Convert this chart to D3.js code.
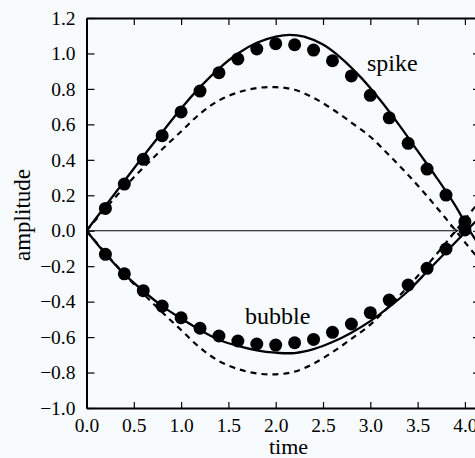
<!DOCTYPE html>
<html>
<head>
<meta charset="utf-8">
<script src="https://cdn.jsdelivr.net/npm/d3@7"></script>
<style>
  html, body { margin: 0; padding: 0; background: #f8fbfd; }
  svg { display: block; }
  text { font-family: "Liberation Serif", "Times New Roman", serif; fill: #000; }
</style>
</head>
<body>
<svg id="chart" width="475" height="458"></svg>
<script>
// ---- data ----
const dotTimes   = [0.2,0.4,0.6,0.8,1.0,1.2,1.4,1.6,1.8,2.0,2.2,2.4,2.6,2.8,3.0,3.2,3.4,3.6,3.8,4.0];
const spikeDots  = [0.126,0.263,0.403,0.536,0.670,0.788,0.891,0.969,1.025,1.055,1.049,1.019,0.959,0.873,0.764,0.637,0.493,0.348,0.201,0.051];
const bubbleDots = [-0.133,-0.243,-0.338,-0.425,-0.491,-0.550,-0.594,-0.622,-0.639,-0.645,-0.632,-0.613,-0.573,-0.526,-0.462,-0.391,-0.306,-0.212,-0.103,0.004];

const spikeTimes = [0,0.2,0.4,0.6,0.8,1.0,1.2,1.4,1.6,1.8,2.0,2.15,2.3,2.5,2.7,2.9,3.1,3.3,3.5,3.7,3.9,4.05,4.2];
const spikeLine  = [0,0.14,0.28,0.42,0.555,0.69,0.81,0.915,1.0,1.06,1.095,1.105,1.095,1.05,0.97,0.865,0.74,0.6,0.45,0.3,0.14,0.0,-0.12];

const lineTimes  = [0,0.2,0.4,0.6,0.8,1.0,1.2,1.4,1.6,1.8,2.0,2.2,2.4,2.6,2.8,3.0,3.2,3.4,3.6,3.8,4.0,4.2];
const bubbleLine = [0,-0.13,-0.245,-0.34,-0.425,-0.495,-0.56,-0.615,-0.65,-0.675,-0.688,-0.69,-0.668,-0.628,-0.575,-0.51,-0.43,-0.34,-0.23,-0.12,-0.01,0.1];
const dashUpper  = [0,0.125,0.245,0.355,0.46,0.56,0.66,0.735,0.78,0.805,0.81,0.795,0.75,0.685,0.61,0.53,0.425,0.315,0.195,0.068,-0.065,-0.195];
const dashLower  = [0,-0.125,-0.245,-0.355,-0.46,-0.56,-0.66,-0.735,-0.78,-0.805,-0.81,-0.795,-0.75,-0.685,-0.61,-0.53,-0.425,-0.315,-0.195,-0.068,0.065,0.195];

const xTicks = [0,0.5,1.0,1.5,2.0,2.5,3.0,3.5,4.0];
const yTicks = [-1.0,-0.8,-0.6,-0.4,-0.2,0.0,0.2,0.4,0.6,0.8,1.0,1.2];

// ---- layout ----
const svg = d3.select("#chart");
const x = d3.scaleLinear().domain([0, 4.17]).range([86.5, 481]);
const y = d3.scaleLinear().domain([-1.0, 1.2]).range([408, 18]);

svg.append("defs").append("clipPath").attr("id","plot")
  .append("rect").attr("x", x(0)).attr("y", y(1.2)).attr("width", x(4.17)-x(0)).attr("height", y(-1.0)-y(1.2));

const fmt = d3.format(".1f");

// y axis left
const yAxisL = d3.axisLeft(y).tickValues(yTicks).tickSizeInner(-8).tickSizeOuter(0).tickPadding(11)
  .tickFormat(fmt);
const gyl = svg.append("g").attr("transform", `translate(${x(0)},0)`).call(yAxisL);
// y axis right
const yAxisR = d3.axisRight(y).tickValues(yTicks).tickSizeInner(-8).tickSizeOuter(0).tickFormat("");
const gyr = svg.append("g").attr("transform", `translate(${x(4.17)},0)`).call(yAxisR);
// x axis bottom
const xAxisB = d3.axisBottom(x).tickValues(xTicks).tickSizeInner(-6).tickSizeOuter(0).tickPadding(10)
  .tickFormat(fmt);
const gxb = svg.append("g").attr("transform", `translate(0,${y(-1.0)})`).call(xAxisB);
// x axis top
const xAxisT = d3.axisTop(x).tickValues(xTicks).tickSizeInner(-7).tickSizeOuter(0).tickFormat("");
const gxt = svg.append("g").attr("transform", `translate(0,${y(1.2)})`).call(xAxisT);

[gyl, gyr, gxb, gxt].forEach(g => {
  g.select(".domain").attr("stroke", "#000").attr("stroke-width", 2);
  g.selectAll(".tick line").attr("stroke", "#000").attr("stroke-width", 1.2);
  g.selectAll(".tick text").attr("font-size", 19.5).attr("font-family", '"Liberation Serif", serif').attr("fill", "#000");
});

// zero line with arrow head
const zx1 = x(3.92);
svg.append("line").attr("x1", x(0)).attr("x2", zx1).attr("y1", y(0)).attr("y2", y(0))
  .attr("stroke", "#000").attr("stroke-width", 1.2);
svg.append("path")
  .attr("d", `M${zx1-7},${y(0)-5} L${zx1},${y(0)} L${zx1-7},${y(0)+5}`)
  .attr("fill", "none").attr("stroke", "#000").attr("stroke-width", 1.2);

const plot = svg.append("g").attr("clip-path", "url(#plot)");
const line = d3.line().curve(d3.curveCatmullRom.alpha(0.5));

// dashed curves
[dashUpper, dashLower].forEach(vals => {
  plot.append("path")
    .attr("d", line(lineTimes.map((t,i) => [x(t), y(vals[i])])))
    .attr("fill", "none").attr("stroke", "#000").attr("stroke-width", 2.2)
    .attr("stroke-dasharray", "6,5");
});

// solid curves
plot.append("path")
  .attr("d", line(spikeTimes.map((t,i) => [x(t), y(spikeLine[i])])))
  .attr("fill", "none").attr("stroke", "#000").attr("stroke-width", 2.3);
plot.append("path")
  .attr("d", line(lineTimes.map((t,i) => [x(t), y(bubbleLine[i])])))
  .attr("fill", "none").attr("stroke", "#000").attr("stroke-width", 2.3);

// dots
plot.selectAll("circle.spike").data(dotTimes).enter().append("circle")
  .attr("cx", d => x(d)).attr("cy", (d,i) => y(spikeDots[i])).attr("r", 6.5).attr("fill", "#000");
plot.selectAll("circle.bubble").data(dotTimes).enter().append("circle")
  .attr("cx", d => x(d)).attr("cy", (d,i) => y(bubbleDots[i])).attr("r", 6.5).attr("fill", "#000");

// labels
svg.append("text").attr("x", 367).attr("y", 71).attr("font-size", 24).text("spike");
svg.append("text").attr("x", 245).attr("y", 324).attr("font-size", 24).text("bubble");
svg.append("text").attr("x", 288.5).attr("y", 453.5).attr("text-anchor", "middle").attr("font-size", 22).text("time");
svg.append("text").attr("transform", "translate(30,215) rotate(-90)").attr("text-anchor", "middle")
  .attr("font-size", 23).text("amplitude");
</script>
</body>
</html>
